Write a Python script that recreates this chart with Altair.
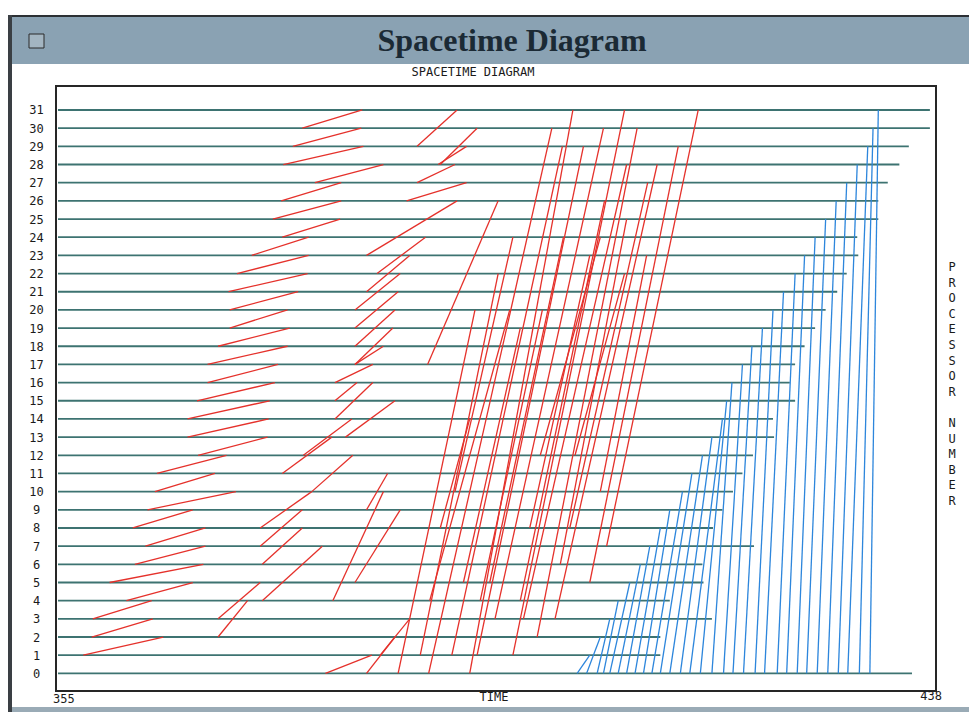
import altair as alt
import pandas as pd

# ---------------- data (time units, processor numbers) ----------------
procs = list(range(32))
line_start = 355.0
line_end = [436.1, 412.2, 412.2, 417.1, 413.1, 416.3, 416.2, 421.1, 417.2, 418.1,
            419.1, 420.0, 421.0, 423.0, 422.9, 425.0, 424.5, 425.0, 425.9, 426.9,
            427.9, 429.0, 429.9, 431.0, 430.9, 432.9, 432.9, 433.8, 434.9, 435.8,
            437.8, 437.8]

# phase 1: messages p -> p+1
shift_src = list(range(1, 31))
shift_t0 = [357.4, 358.2, 358.3, 361.5, 359.9, 362.3, 363.3, 362.1, 363.5, 364.2,
            364.4, 368.3, 367.3, 367.3, 368.2, 369.2, 369.2, 370.2, 371.3, 371.3,
            371.2, 372.0, 373.4, 376.3, 375.4, 376.2, 379.4, 376.4, 377.3, 378.2]
shift_t1 = [365.0, 364.0, 363.9, 367.8, 368.8, 369.0, 369.0, 367.8, 371.9, 369.9,
            371.0, 374.9, 375.0, 375.1, 375.6, 375.9, 376.8, 377.0, 376.8, 377.8,
            378.7, 378.8, 378.8, 381.8, 381.9, 381.9, 385.9, 384.0, 383.8, 383.9]

# phase 2: short messages
mid_t0 = [380.4, 384.3, 385.6, 370.2, 370.2, 374.4, 374.4, 374.2, 374.2, 379.1,
          376.3, 378.3, 382.3, 381.3, 381.3, 381.3, 383.2, 383.2, 383.2, 383.2,
          383.2, 384.3, 385.3, 384.3, 388.1, 389.1, 391.1, 391.3, 389.1, 381.1,
          383.2, 384.3]
mid_p0 = [0, 0, 1, 2, 3, 4, 6, 7, 8, 10,
          11, 12, 13, 14, 15, 16, 17, 17, 18, 19,
          20, 21, 22, 23, 26, 27, 28, 28, 29, 4,
          5, 9]
mid_t1 = [384.8, 387.0, 388.4, 373.0, 374.2, 380.1, 378.2, 378.2, 379.1, 383.0,
          381.0, 382.9, 387.0, 384.9, 383.4, 384.9, 385.9, 386.8, 387.0, 387.3,
          387.5, 388.4, 389.9, 392.9, 393.8, 392.7, 393.8, 394.8, 392.9, 385.9,
          387.5, 386.3]
mid_p1 = [1, 2, 3, 4, 5, 7, 8, 9, 10, 12,
          13, 14, 15, 16, 16, 17, 18, 19, 20, 21,
          22, 23, 24, 26, 27, 28, 29, 30, 31, 10,
          9, 11]

# phase 3: long messages
long_t0 = [407.1, 405.5, 402.2, 403.6, 406.5, 400.5, 399.2, 398.2, 398.9, 396.5,
           394.8, 394.1, 396.0, 392.4, 390.2, 395.1, 393.5, 390.3, 387.3, 389.4,
           390.1, 392.7, 400.8, 404.1, 402.7, 399.8, 391.3]
long_p0 = [7, 5, 3, 8, 10, 2, 3, 1, 4, 3,
           1, 0, 5, 1, 0, 4, 5, 4, 0, 1,
           17, 10, 12, 12, 6, 8, 8]
long_t1 = [415.8, 413.9, 411.9, 411.0, 410.9, 410.0, 409.0, 408.8, 406.9, 406.8,
           404.9, 403.9, 403.0, 402.9, 401.9, 401.0, 398.9, 397.9, 394.6, 396.8,
           396.8, 398.2, 406.5, 408.8, 409.0, 405.5, 394.1]
long_p1 = [31, 29, 28, 27, 23, 30, 28, 31, 26, 30,
           29, 31, 24, 29, 30, 20, 19, 20, 20, 22,
           26, 24, 24, 22, 25, 23, 14]

# phase 4 (blue): processor 0 -> processor k
blue_dst = list(range(1, 32))
blue_t0 = [404.3, 405.2, 406.2, 406.8, 407.4, 408.2, 409.0, 409.8, 410.6, 411.4,
           412.2, 413.1, 414.1, 415.0, 416.0, 417.1, 418.2, 419.1, 420.1, 421.2,
           422.1, 423.3, 424.2, 425.2, 426.1, 427.1, 428.1, 429.1, 430.0, 431.1,
           432.1]
blue_t1 = [405.5, 406.5, 407.4, 408.2, 409.3, 410.3, 411.2, 412.2, 413.1, 414.3,
           415.2, 416.2, 417.1, 418.1, 418.5, 419.0, 420.0, 420.9, 421.9, 422.9,
           423.9, 425.0, 425.9, 426.9, 427.9, 428.9, 429.9, 430.9, 431.9, 432.4,
           432.9]

axis_ticks = [355, 438]
side_word1 = list("PROCESSOR")
side_word2 = list("NUMBER")

# ---------------- tables ----------------
hl = pd.DataFrame({"p": procs, "t0": [line_start] * len(procs), "t1": line_end})
red = pd.DataFrame({
    "t0": shift_t0 + mid_t0 + long_t0,
    "p0": shift_src + mid_p0 + long_p0,
    "t1": shift_t1 + mid_t1 + long_t1,
    "p1": [s + 1 for s in shift_src] + mid_p1 + long_p1,
})
blue = pd.DataFrame({"t0": blue_t0, "p0": [0] * len(blue_dst), "t1": blue_t1, "p1": blue_dst})
one = pd.DataFrame({"k": [0]})

xs = alt.Scale(domain=[354.81, 438.38], nice=False, zero=False)
ys = alt.Scale(domain=[-0.97, 32.32], nice=False, zero=False)
yaxis = alt.Axis(values=procs, title=None, ticks=False, domain=False, grid=False,
                 labelFont="DejaVu Sans Mono", labelFontSize=12, labelColor="#1a1a1a",
                 labelAlign="center", labelPadding=20, labelOverlap=False)


def seg(df, color, width):
    return alt.Chart(df).mark_rule(color=color, strokeWidth=width).encode(
        x=alt.X("t0:Q", scale=xs, axis=None),
        x2="t1:Q",
        y=alt.Y("p0:Q", scale=ys, axis=yaxis),
        y2="p1:Q",
    )


hlines = alt.Chart(hl).mark_rule(color="#3d7371", strokeWidth=1.8).encode(
    x=alt.X("t0:Q", scale=xs, axis=None),
    x2="t1:Q",
    y=alt.Y("p:Q", scale=ys, axis=yaxis),
)

red_layer = seg(red, "#e5312b", 1.3)
blue_layer = seg(blue, "#2d86dc", 1.3)


def box(x, x2, y, y2, fill, stroke=None):
    kw = {"fill": fill}
    if stroke:
        kw["stroke"] = stroke
        kw["strokeWidth"] = 1
    return alt.Chart(one).mark_rect(**kw).encode(
        x=alt.value(x), x2=alt.value(x2), y=alt.value(y), y2=alt.value(y2))


def label(txt, x, y, **kw):
    return alt.Chart(one).mark_text(text=txt, **kw).encode(x=alt.value(x), y=alt.value(y))


chrome = [
    box(-45, 913, -69, -22, "#8aa2b3"),
    box(-45, 913, -71, -69, "#2c3034"),
    box(-48, -44, -71, 626, "#3a3f44"),
    box(-44, 913, 621, 626, "#9aabb6"),
    box(-27, -12, -52, -38, "#a3b5c1", "#2a2a2a"),
]

texts = [
    label("Spacetime Diagram", 456, -45, font="Liberation Serif", fontWeight="bold",
          fontSize=32, color="#1b2a35", baseline="middle", align="center"),
    label("SPACETIME DIAGRAM", 417, -14, font="DejaVu Sans Mono", fontSize=12,
          color="#1a1a1a", baseline="middle", align="center"),
    label("TIME", 438, 611, font="DejaVu Sans Mono", fontSize=12,
          color="#1a1a1a", baseline="middle", align="center"),
    label(side_word1, 896, 181, font="DejaVu Sans Mono", fontSize=12, lineHeight=15.6,
          color="#1a1a1a", baseline="middle", align="center"),
    label(side_word2, 896, 337, font="DejaVu Sans Mono", fontSize=12, lineHeight=15.6,
          color="#1a1a1a", baseline="middle", align="center"),
]

tick_left = alt.Chart(pd.DataFrame({"v": [axis_ticks[0]]})).mark_text(
    font="DejaVu Sans Mono", fontSize=12, color="#1a1a1a", align="left", baseline="middle", dx=-5
).encode(x=alt.X("v:Q", scale=xs, axis=None), y=alt.value(613), text="v:Q")
tick_right = alt.Chart(pd.DataFrame({"v": [axis_ticks[1]]})).mark_text(
    font="DejaVu Sans Mono", fontSize=12, color="#1a1a1a", align="right", baseline="middle", dx=10
).encode(x=alt.X("v:Q", scale=xs, axis=None), y=alt.value(610), text="v:Q")

chart = alt.layer(
    *chrome, hlines, red_layer, blue_layer, *texts, tick_left, tick_right
).properties(
    width=880, height=605,
    autosize=alt.AutoSizeParams(type="none"),
    padding={"left": 56, "top": 86, "right": 33, "bottom": 21},
    background="#ffffff",
).configure_view(stroke="#262626", strokeWidth=2)

chart.save("out.html", embed_options={"renderer": "svg", "actions": False})
